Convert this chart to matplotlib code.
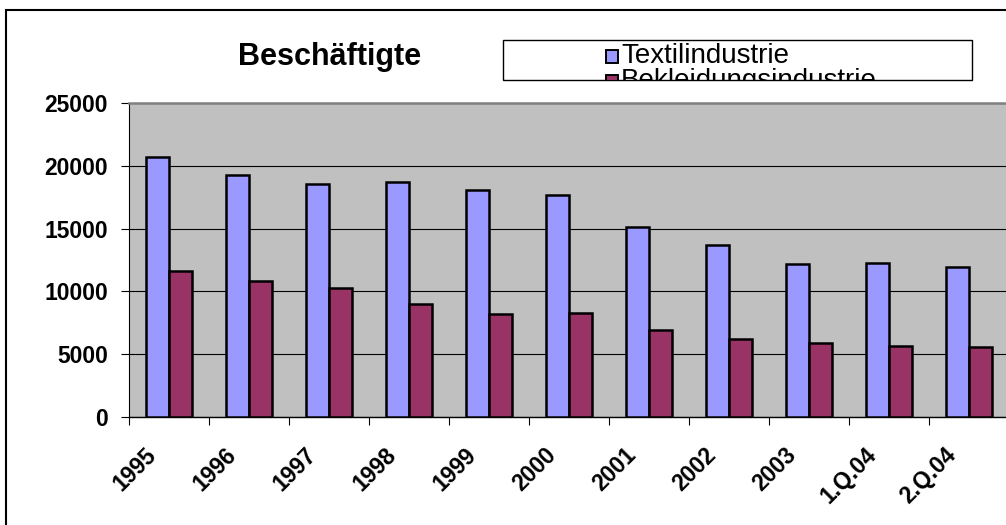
import matplotlib
matplotlib.use("Agg")
import matplotlib.pyplot as plt
import matplotlib.patches as mpatches
from matplotlib.transforms import ScaledTranslation
import numpy as np

# data
categories = ["1995", "1996", "1997", "1998", "1999", "2000", "2001",
              "2002", "2003", "1.Q.04", "2.Q.04"]
textil = [20700, 19300, 18600, 18700, 18100, 17700, 15100, 13700, 12200, 12250, 11950]
bekleidung = [11600, 10800, 10250, 9000, 8200, 8300, 6900, 6200, 5850, 5650, 5550]
series_names = ["Textilindustrie", "Bekleidungsindustrie"]
series_colors = ["#9999FF", "#993366"]
y_ticks = [0, 5000, 10000, 15000, 20000, 25000]
title = "Beschäftigte"

plt.rcParams["font.family"] = ["Liberation Sans", "DejaVu Sans"]

W, H = 1006, 525
fig = plt.figure(figsize=(W / 100, H / 100), dpi=100)


def fx(px):
    return px / W


def fy(py):
    return 1 - py / H


# outer chart frame, runs off the right and bottom edge like the original
frame = mpatches.Rectangle((fx(6), fy(540)), fx(1020) - fx(6), fy(10) - fy(540),
                           transform=fig.transFigure, fill=False,
                           edgecolor="black", linewidth=1.5)
fig.patches.append(frame)

ax = fig.add_axes([fx(129), fy(416.7), 880 / W, (416.7 - 103.3) / H])
ax.set_facecolor("#C0C0C0")

x = np.arange(len(categories))
w = 1 / 3.5
ax.bar(x - w / 2, textil, w, color=series_colors[0], edgecolor="black",
       linewidth=1.8, zorder=3)
ax.bar(x + w / 2, bekleidung, w, color=series_colors[1], edgecolor="black",
       linewidth=1.8, zorder=3)

ax.set_xlim(-0.5, len(categories) - 0.5)
ax.set_ylim(0, 25000)

ax.set_yticks(y_ticks)
ax.set_yticklabels([str(v) for v in y_ticks], fontweight="bold", fontsize=16.5)
ax.yaxis.grid(True, color="black", linewidth=0.8)
ax.tick_params(axis="y", direction="out", length=5.5, width=0.8, pad=9.5)

# ticks between categories, labels centred on them
ax.set_xticks(np.arange(len(categories) + 1) - 0.5)
ax.set_xticklabels([])
ax.set_xticks(x, minor=True)
ax.set_xticklabels(categories, minor=True, rotation=45, ha="right", va="center",
                   rotation_mode="anchor", fontweight="bold", fontsize=16.5)
ax.tick_params(axis="x", which="major", direction="out", length=5.5, width=0.8)
ax.tick_params(axis="x", which="minor", length=0, pad=25)
shift = ScaledTranslation(-16 / 100, 0, fig.dpi_scale_trans)
for lbl in ax.get_xticklabels(minor=True):
    lbl.set_transform(lbl.get_transform() + shift)

ax.spines["top"].set_color("#808080")
ax.spines["top"].set_linewidth(1.8)
ax.spines["right"].set_visible(False)
ax.spines["left"].set_linewidth(0.8)
ax.spines["bottom"].set_linewidth(1.0)

fig.text(fx(330), fy(57), title, ha="center", va="center",
         fontsize=22, fontweight="bold")

# legend box, too small for both entries (second one is cut off)
leg_box = mpatches.Rectangle((fx(503), fy(80)), fx(972) - fx(503), fy(40) - fy(80),
                             transform=fig.transFigure, facecolor="white",
                             edgecolor="black", linewidth=1.0, zorder=5)
fig.patches.append(leg_box)
for i, (name, col) in enumerate(zip(series_names, series_colors)):
    yc = 56 + i * 25
    sq = mpatches.Rectangle((fx(606), fy(yc + 6.5)), fx(618) - fx(606), 13 / H,
                            transform=fig.transFigure, facecolor=col,
                            edgecolor="black", linewidth=1.4, zorder=6)
    fig.patches.append(sq)
    sq.set_clip_path(leg_box)
    t = fig.text(fx(621), fy(yc), name, ha="left", va="center", fontsize=20,
                 zorder=6)
    t.set_clip_path(leg_box)

fig.savefig("out.png", dpi=100)
